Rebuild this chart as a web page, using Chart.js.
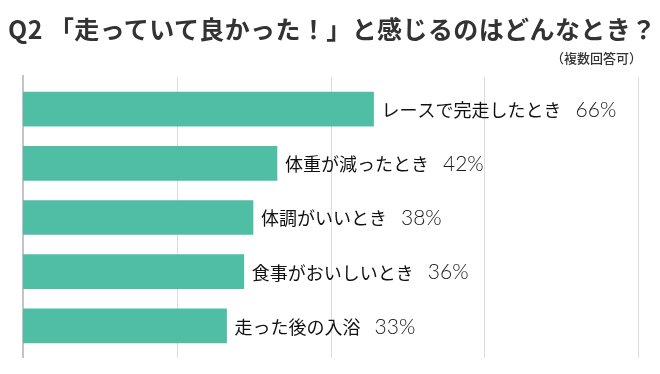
<!DOCTYPE html>
<html lang="ja">
<head>
<meta charset="utf-8">
<script src="https://cdn.jsdelivr.net/npm/chart.js@4.4.1/dist/chart.umd.min.js"></script>
<style>
  html, body { margin: 0; padding: 0; background: #fff; }
  #wrap { position: relative; width: 660px; height: 374px; overflow: hidden; }
  #title { position: absolute; left: 8px; top: 11px; margin: 0; font-family: "Noto Sans CJK JP", sans-serif; font-weight: 700; font-size: 25px; line-height: 34px; color: #333; white-space: nowrap; letter-spacing: 0.4px; }
  #sub { position: absolute; right: 18px; top: 49px; margin: 0; font-family: "Noto Sans CJK JP", sans-serif; font-weight: 500; font-size: 13px; line-height: 18px; color: #333; white-space: nowrap; }
  #chart { position: absolute; left: 0; top: 0; }
</style>
</head>
<body>
<div id="wrap">
  <canvas id="chart" width="660" height="374"></canvas>
  <h1 id="title">Q2 「走っていて良かった！」と感じるのはどんなとき？</h1>
  <p id="sub">（複数回答可）</p>
</div>
<script>
// Categories, top to bottom
const categories = ["レースで完走したとき", "体重が減ったとき", "体調がいいとき", "食事がおいしいとき", "走った後の入浴"];
// Percentages printed beside each bar
const percentLabels = ["66%", "42%", "38%", "36%", "33%"];
// Bar lengths as drawn in the reference (the 66% bar is drawn shortened there)
const barLengths = [57, 41.3, 37.4, 35.9, 33.1];
// Axis grid values
const gridValues = [0, 25, 50, 75, 100];

const gridPlugin = {
  id: 'extGrid',
  beforeDatasetsDraw(chart) {
    const { ctx, chartArea, scales } = chart;
    const x = scales.x;
    ctx.save();
    gridValues.forEach(v => {
      const px = Math.round(x.getPixelForValue(v));
      ctx.beginPath();
      if (v === 0) {
        ctx.strokeStyle = '#c4c4c4';
        ctx.lineWidth = 2;
        ctx.moveTo(px, chartArea.top - 7);
        ctx.lineTo(px, chartArea.bottom + 5);
      } else {
        ctx.strokeStyle = '#dcdcdc';
        ctx.lineWidth = 1;
        ctx.moveTo(px + 0.5, chartArea.top - 5);
        ctx.lineTo(px + 0.5, chartArea.bottom + 5);
      }
      ctx.stroke();
    });
    ctx.restore();
  }
};

const labelPlugin = {
  id: 'barLabels',
  afterDatasetsDraw(chart) {
    const { ctx } = chart;
    const meta = chart.getDatasetMeta(0);
    ctx.save();
    ctx.textBaseline = 'middle';
    meta.data.forEach((bar, i) => {
      let px = bar.x + 8;
      ctx.font = '400 18px "Noto Sans CJK JP", sans-serif';
      ctx.fillStyle = '#111';
      ctx.fillText(categories[i], px, bar.y + 1);
      px += ctx.measureText(categories[i]).width + 14;
      ctx.font = '300 21px Lato, "Noto Sans", sans-serif';
      ctx.fillStyle = '#1a1a1a';
      ctx.fillText(percentLabels[i], px, bar.y + 1);
    });
    ctx.restore();
  }
};

new Chart(document.getElementById('chart'), {
  type: 'bar',
  data: {
    labels: categories,
    datasets: [{
      data: barLengths,
      backgroundColor: '#4fbea4',
      borderWidth: 0,
      barThickness: 34
    }]
  },
  options: {
    indexAxis: 'y',
    responsive: false,
    animation: false,
    layout: { padding: { left: 23, right: 22, top: 82, bottom: 21 } },
    plugins: { legend: { display: false }, tooltip: { enabled: false }, title: { display: false } },
    scales: {
      x: { display: false, min: 0, max: 100 },
      y: { display: false }
    }
  },
  plugins: [gridPlugin, labelPlugin]
});
</script>
</body>
</html>
